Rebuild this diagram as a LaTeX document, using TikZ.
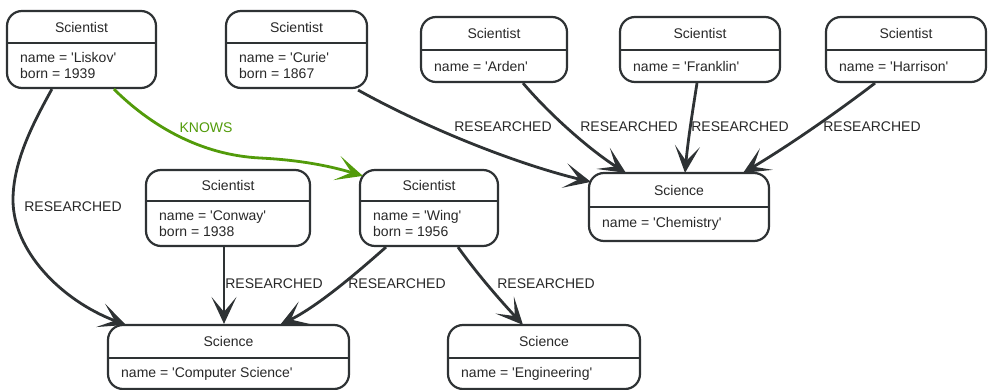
\documentclass[tikz,border=0pt]{standalone}
\usepackage{fontspec}
\setmainfont{Liberation Sans}
\usetikzlibrary{arrows.meta,calc}

\definecolor{ink}{RGB}{46,50,52}
\definecolor{txt}{RGB}{40,40,40}
\definecolor{knowsgreen}{RGB}{82,155,10}

\newcommand\q{\textquotesingle}

\tikzset{
  box/.style={draw=ink, line width=2.2pt, rounded corners=15pt, inner sep=0pt, fill=white},
  hdr/.style={font=\fontsize{14}{16}\selectfont, text=txt, inner sep=0pt},
  attr/.style={font=\fontsize{14}{15.5}\selectfont, text=txt, align=left, anchor=west, inner sep=0pt},
  divider/.style={draw=ink, line width=2pt},
  rel/.style={draw=ink, line width=2.8pt, -{Stealth[length=27pt,width=25pt,inset=15pt]}},
  knowsrel/.style={draw=knowsgreen, line width=2.8pt, -{Stealth[length=27pt,width=25pt,inset=15pt,color=knowsgreen]}},
  rellabel/.style={font=\fontsize{14}{16}\selectfont, text=txt, inner sep=0pt},
}

% #1 name, #2 left, #3 top, #4 right, #5 bottom, #6 divider, #7 label, #8 properties
\newcommand\entity[8]{%
  \node[box, minimum width={#4-#2}, minimum height={#5-#3}] (#1) at ({(#2+#4)/2},{(#3+#5)/2}) {};
  \node[hdr] (#1-head) at ({(#2+#4)/2},{(#3+#6)/2}) {#7};
  \draw[divider] (#2,#6) -- (#4,#6);
  \node[attr] (#1-props) at ({#2+13},{(#6+#5)/2}) {#8};
}

\begin{document}
\begin{tikzpicture}[x=1pt,y=-1pt]
  \useasboundingbox (0,0) rectangle (991,390);

  % entities
  \entity{liskov}{7}{11}{156}{88}{43}{Scientist}{name = \q Liskov\q\\born = 1939}
  \entity{curie}{226}{11}{367}{88}{43}{Scientist}{name = \q Curie\q\\born = 1867}
  \entity{arden}{421}{17}{567}{82}{50}{Scientist}{name = \q Arden\q}
  \entity{franklin}{620}{17}{780}{82}{50}{Scientist}{name = \q Franklin\q}
  \entity{harrison}{826}{17}{986}{82}{50}{Scientist}{name = \q Harrison\q}
  \entity{conway}{146}{170}{310}{246}{201}{Scientist}{name = \q Conway\q\\born = 1938}
  \entity{wing}{360}{170}{498}{246}{201}{Scientist}{name = \q Wing\q\\born = 1956}
  \entity{chem}{589}{173}{769}{241}{207}{Science}{name = \q Chemistry\q}
  \entity{cs}{108}{325}{349}{389}{358}{Science}{name = \q Computer Science\q}
  \entity{eng}{448}{325}{640}{389}{358}{Science}{name = \q Engineering\q}

  % relationships
  \draw[rel] ($(liskov.south west)+(46,0)$) .. controls (35,120) and (13,160) .. (13,200)
             .. controls (13,250) and (60,300) .. ($(cs.north west)+(19,1)$);
  \draw[knowsrel] ($(liskov.south west)+(108,0)$) .. controls (150,125) and (200,155) .. (260,158)
             .. controls (300,160) and (330,166) .. ($(wing.north west)+(4,7)$);
  \draw[rel] ($(curie.south east)+(-10,1)$) .. controls (430,130) and (520,165) .. ($(chem.north west)+(3,10)$);
  \draw[rel] ($(arden.south)+(29,0)$) .. controls (550,115) and (590,150) .. ($(chem.north west)+(38,1)$);
  \draw[rel] ($(franklin.south)+(-3,0)$) .. controls (692,115) and (688,140) .. ($(chem.north)+(6,1)$);
  \draw[rel] ($(harrison.south)+(-31,0)$) .. controls (840,110) and (790,145) .. ($(chem.north east)+(-27,1)$);
  \coordinate (conway-out) at ($(conway.south)+(-4,0)$);
  \draw[rel] (conway-out) -- (conway-out |- cs.north);
  \draw[rel] ($(wing.south)+(-43,0)$) .. controls (360,270) and (320,305) .. ($(cs.north east)+(-70,1)$);
  \draw[rel] ($(wing.south)+(29,0)$) .. controls (478,275) and (500,300) .. ($(eng.north)+(-21,1)$);

  % relationship labels
  \node[rellabel] (l-liskov-cs) at (73,207) {RESEARCHED};
  \node[rellabel, text=knowsgreen] (l-knows) at (206,128) {KNOWS};
  \node[rellabel] (l-curie) at (503,127) {RESEARCHED};
  \node[rellabel] (l-arden) at (629,127) {RESEARCHED};
  \node[rellabel] (l-franklin) at (740,127) {RESEARCHED};
  \node[rellabel] (l-harrison) at (872,127) {RESEARCHED};
  \node[rellabel] (l-conway) at (274,284) {RESEARCHED};
  \node[rellabel] (l-wing-cs) at (397,284) {RESEARCHED};
  \node[rellabel] (l-wing-eng) at (546,284) {RESEARCHED};
\end{tikzpicture}
\end{document}
